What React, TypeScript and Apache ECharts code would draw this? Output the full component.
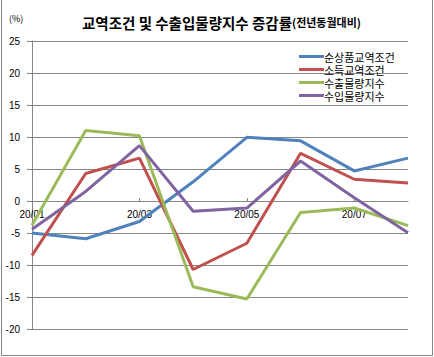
import React, { useEffect, useRef } from "react";
import * as echarts from "echarts";

const categories = ["20/01", "20/02", "20/03", "20/04", "20/05", "20/06", "20/07", "20/08"];
const netTerms = [-5.0, -5.9, -3.2, 3.0, 9.95, 9.4, 4.7, 6.7];
const incomeTerms = [-8.5, 4.3, 6.7, -10.7, -6.6, 7.45, 3.4, 2.8];
const exportVolume = [-3.8, 11.0, 10.2, -13.4, -15.3, -1.8, -1.1, -3.85];
const importVolume = [-4.4, 1.5, 8.65, -1.6, -1.1, 6.25, 0.5, -4.95];
const seriesNames = ["순상품교역조건", "소득교역조건", "수출물량지수", "수입물량지수"];
const colors = ["#4F81BD", "#C0504D", "#9BBB59", "#8064A2"];

export default function App() {
  const ref = useRef<HTMLDivElement>(null);
  useEffect(() => {
    const chart = echarts.init(ref.current!, null, { renderer: "svg" });
    const data = [netTerms, incomeTerms, exportVolume, importVolume];
    chart.setOption({
      animation: false,
      backgroundColor: "#ffffff",
      textStyle: { fontFamily: "'Noto Sans CJK KR', sans-serif" },
      title: {
        text: "{a|교역조건 및 수출입물량지수 증감률}{b|(전년동월대비)}",
        left: 77,
        top: 10,
        textStyle: {
          rich: {
            a: { fontSize: 14.5, fontWeight: "bold", color: "#000", fontFamily: "'Noto Sans CJK KR', sans-serif" },
            b: { fontSize: 11, fontWeight: "bold", color: "#000", fontFamily: "'Noto Sans CJK KR', sans-serif" },
          },
        },
      },
      graphic: [
        { type: "text", left: 9, top: 14, style: { text: "(%)", fontSize: 9, fill: "#000", fontFamily: "'Noto Sans CJK KR', sans-serif" } },
        { type: "line", shape: { x1: 1.5, y1: 0, x2: 1.5, y2: 355.5 }, style: { stroke: "#868686", lineWidth: 1 } },
        { type: "line", shape: { x1: 432.5, y1: 0, x2: 432.5, y2: 355.5 }, style: { stroke: "#868686", lineWidth: 1 } },
        { type: "line", shape: { x1: 1.5, y1: 355.5, x2: 432.5, y2: 355.5 }, style: { stroke: "#868686", lineWidth: 1 } },
      ],
      legend: {
        orient: "vertical",
        left: 294,
        top: 46,
        itemWidth: 25,
        itemHeight: 3,
        itemGap: 2,
        icon: "rect",
        data: seriesNames,
        textStyle: { fontSize: 11, lineHeight: 11, color: "#000", padding: [0, 0, 0, -5] },
      },
      grid: { left: 32, right: 26, top: 41, bottom: 28, containLabel: false },
      xAxis: {
        type: "category",
        data: categories,
        boundaryGap: false,
        position: "bottom",
        offset: -128,
        axisLine: { onZero: false, lineStyle: { color: "#868686" } },
        axisTick: { show: true, inside: true, length: 3, interval: 1, lineStyle: { color: "#868686" } },
        axisLabel: { interval: 1, fontSize: 10, color: "#000", margin: 8, fontFamily: "Arial, 'Liberation Sans', sans-serif" },
        splitLine: { show: false },
      },
      yAxis: {
        type: "value",
        min: -20,
        max: 25,
        interval: 5,
        axisLine: { show: true, lineStyle: { color: "#868686" } },
        axisTick: { show: true, length: 5, lineStyle: { color: "#868686" } },
        axisLabel: { fontSize: 10, color: "#000", margin: 12, fontFamily: "Arial, 'Liberation Sans', sans-serif" },
        splitLine: { show: true, lineStyle: { color: "#868686", width: 1 } },
      },
      series: seriesNames.map((name, i) => ({
        name,
        type: "line",
        data: data[i],
        symbol: "none",
        color: colors[i],
        lineStyle: { width: 3, color: colors[i] },
      })),
    });
    return () => chart.dispose();
  }, []);
  return <div ref={ref} style={{ width: 434, height: 357, position: "absolute", left: 0, top: 0 }} />;
}
